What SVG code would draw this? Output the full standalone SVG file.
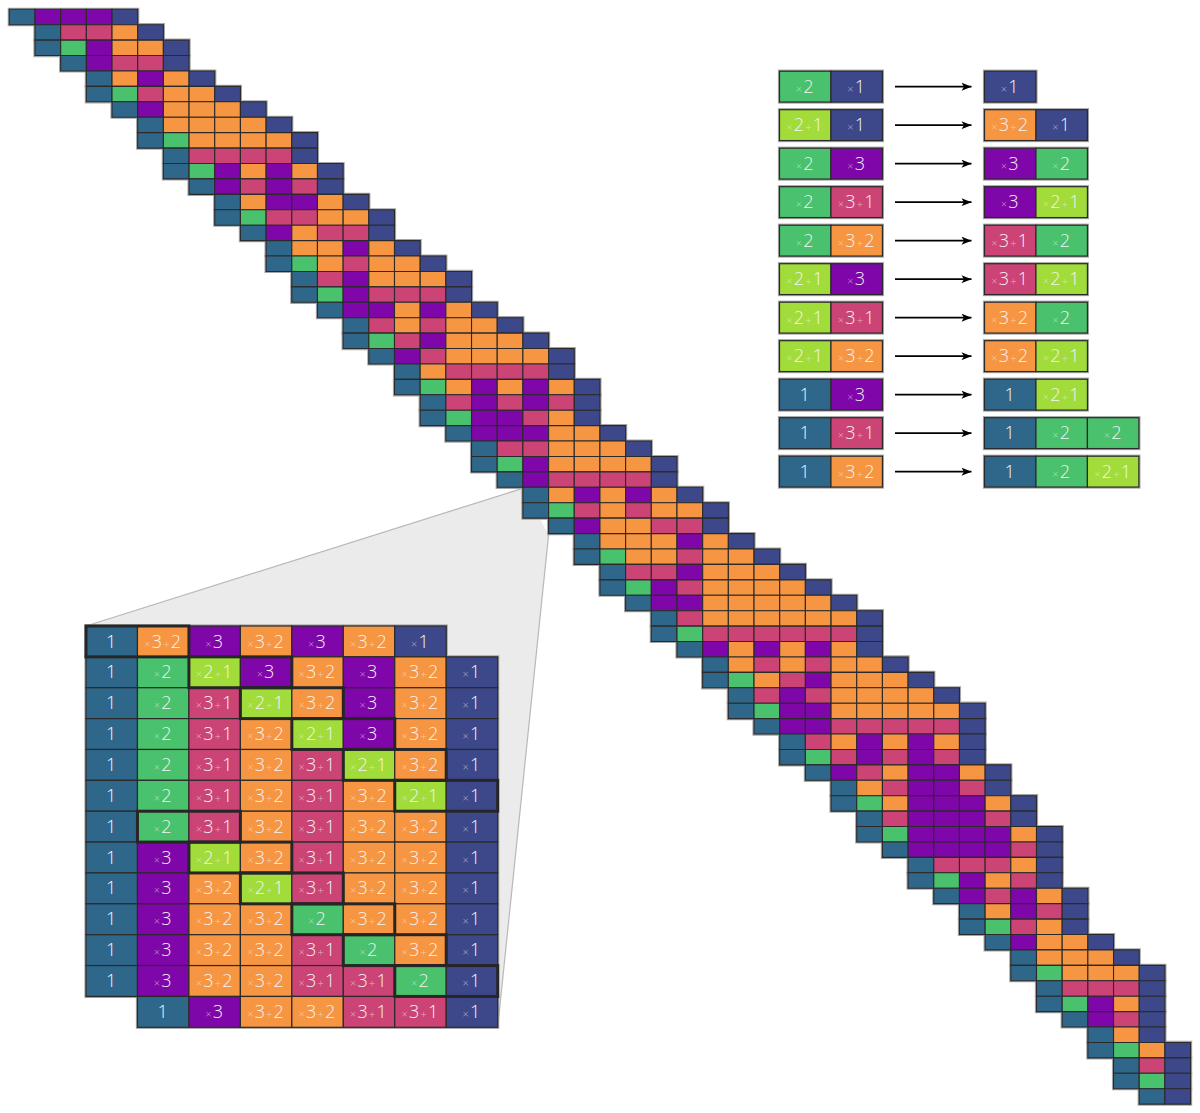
<svg xmlns="http://www.w3.org/2000/svg" width="1200" height="1113" viewBox="0 0 1200 1113">
<style>
.t{fill:#2f678b}.p{fill:#7f06a8}.k{fill:#cb4475}.o{fill:#f79642}.b{fill:#3d488a}.g{fill:#4ac16c}.l{fill:#a2dc3a}
#diag rect{stroke:#2a2a2a;stroke-width:1.1;vector-effect:non-scaling-stroke}
#diag #halo rect{fill:#9b9b9b;stroke:#a5a5a5;stroke-width:3.2}
.cell{stroke:#2a2a2a;stroke-width:1.2}
.halo{fill:#9b9b9b;stroke:#a5a5a5;stroke-width:3.2}
.pair{fill:none;stroke:#262626;stroke-width:3}
text{font-family:"Open Sans","DejaVu Sans",sans-serif;font-size:18px;font-weight:300;fill:#f3f3f3;text-anchor:middle;letter-spacing:1.2px}
.m{font-size:11px;fill-opacity:0.6}
.conn line{stroke:#000;stroke-width:1.8}
</style>
<defs>
<marker id="ah" viewBox="0 0 10 8" refX="10" refY="4" markerWidth="11" markerHeight="8" markerUnits="userSpaceOnUse" orient="auto"><path d="M0,0 L10,4 L0,8 L2.5,4 z" fill="#000"/></marker>
</defs>
<g id="zoom-funnel">
<polygon points="86,626 522.9,488.3 548.6,534.6 497.7,1027.3 137.46,1027.3 137.46,996.44 86,996.44" fill="#ebebeb"/>
<line x1="86" y1="626" x2="522.9" y2="488.3" stroke="#b8b8b8" stroke-width="1.2"/>
<line x1="548.6" y1="534.6" x2="497.7" y2="1027.3" stroke="#b8b8b8" stroke-width="1.2"/>
</g>
<g id="diag" transform="translate(9.3 9.3) scale(25.68 15.42)">
<g id="halo">
<rect x="0" y="0" width="5" height="1"/><rect x="1" y="1" width="5" height="1"/><rect x="1" y="2" width="6" height="1"/><rect x="2" y="3" width="5" height="1"/><rect x="3" y="4" width="5" height="1"/><rect x="3" y="5" width="6" height="1"/><rect x="4" y="6" width="6" height="1"/><rect x="5" y="7" width="6" height="1"/><rect x="5" y="8" width="7" height="1"/><rect x="6" y="9" width="6" height="1"/>
<rect x="6" y="10" width="7" height="1"/><rect x="7" y="11" width="6" height="1"/><rect x="8" y="12" width="6" height="1"/><rect x="8" y="13" width="7" height="1"/><rect x="9" y="14" width="6" height="1"/><rect x="10" y="15" width="6" height="1"/><rect x="10" y="16" width="7" height="1"/><rect x="11" y="17" width="7" height="1"/><rect x="11" y="18" width="7" height="1"/><rect x="12" y="19" width="7" height="1"/>
<rect x="13" y="20" width="7" height="1"/><rect x="13" y="21" width="8" height="1"/><rect x="14" y="22" width="8" height="1"/><rect x="15" y="23" width="7" height="1"/><rect x="15" y="24" width="8" height="1"/><rect x="16" y="25" width="7" height="1"/><rect x="16" y="26" width="7" height="1"/><rect x="17" y="27" width="7" height="1"/><rect x="18" y="28" width="7" height="1"/><rect x="18" y="29" width="8" height="1"/>
<rect x="19" y="30" width="7" height="1"/><rect x="20" y="31" width="7" height="1"/><rect x="20" y="32" width="8" height="1"/><rect x="21" y="33" width="7" height="1"/><rect x="22" y="34" width="7" height="1"/><rect x="22" y="35" width="8" height="1"/><rect x="23" y="36" width="8" height="1"/><rect x="23" y="37" width="9" height="1"/><rect x="24" y="38" width="9" height="1"/><rect x="25" y="39" width="9" height="1"/>
<rect x="25" y="40" width="9" height="1"/><rect x="26" y="41" width="8" height="1"/><rect x="27" y="42" width="8" height="1"/><rect x="27" y="43" width="9" height="1"/><rect x="28" y="44" width="9" height="1"/><rect x="28" y="45" width="10" height="1"/><rect x="29" y="46" width="9" height="1"/><rect x="30" y="47" width="8" height="1"/><rect x="30" y="48" width="8" height="1"/><rect x="31" y="49" width="8" height="1"/>
<rect x="32" y="50" width="7" height="1"/><rect x="32" y="51" width="8" height="1"/><rect x="33" y="52" width="7" height="1"/><rect x="33" y="53" width="8" height="1"/><rect x="34" y="54" width="7" height="1"/><rect x="35" y="55" width="6" height="1"/><rect x="35" y="56" width="6" height="1"/><rect x="36" y="57" width="6" height="1"/><rect x="37" y="58" width="5" height="1"/><rect x="37" y="59" width="5" height="1"/>
<rect x="38" y="60" width="5" height="1"/><rect x="39" y="61" width="5" height="1"/><rect x="39" y="62" width="6" height="1"/><rect x="40" y="63" width="5" height="1"/><rect x="40" y="64" width="5" height="1"/><rect x="41" y="65" width="4" height="1"/><rect x="42" y="66" width="3" height="1"/><rect x="42" y="67" width="4" height="1"/><rect x="43" y="68" width="3" height="1"/><rect x="43" y="69" width="3" height="1"/>
<rect x="44" y="70" width="2" height="1"/>
</g>
<g id="d0" transform="translate(0 0)"><rect class="t" x="0" width="1" height="1"/><rect class="p" x="1" width="1" height="1"/><rect class="p" x="2" width="1" height="1"/><rect class="p" x="3" width="1" height="1"/><rect class="b" x="4" width="1" height="1"/></g>
<g id="d1" transform="translate(1 1)"><rect class="t" x="0" width="1" height="1"/><rect class="k" x="1" width="1" height="1"/><rect class="k" x="2" width="1" height="1"/><rect class="o" x="3" width="1" height="1"/><rect class="b" x="4" width="1" height="1"/></g>
<g id="d2" transform="translate(1 2)"><rect class="t" x="0" width="1" height="1"/><rect class="g" x="1" width="1" height="1"/><rect class="p" x="2" width="1" height="1"/><rect class="o" x="3" width="1" height="1"/><rect class="o" x="4" width="1" height="1"/><rect class="b" x="5" width="1" height="1"/></g>
<g id="d3" transform="translate(2 3)"><rect class="t" x="0" width="1" height="1"/><rect class="p" x="1" width="1" height="1"/><rect class="k" x="2" width="1" height="1"/><rect class="k" x="3" width="1" height="1"/><rect class="b" x="4" width="1" height="1"/></g>
<g id="d4" transform="translate(3 4)"><rect class="t" x="0" width="1" height="1"/><rect class="o" x="1" width="1" height="1"/><rect class="p" x="2" width="1" height="1"/><rect class="o" x="3" width="1" height="1"/><rect class="b" x="4" width="1" height="1"/></g>
<g id="d5" transform="translate(3 5)"><rect class="t" x="0" width="1" height="1"/><rect class="g" x="1" width="1" height="1"/><rect class="k" x="2" width="1" height="1"/><rect class="o" x="3" width="1" height="1"/><rect class="o" x="4" width="1" height="1"/><rect class="b" x="5" width="1" height="1"/></g>
<g id="d6" transform="translate(4 6)"><rect class="t" x="0" width="1" height="1"/><rect class="p" x="1" width="1" height="1"/><rect class="o" x="2" width="1" height="1"/><rect class="o" x="3" width="1" height="1"/><rect class="o" x="4" width="1" height="1"/><rect class="b" x="5" width="1" height="1"/></g>
<g id="d7" transform="translate(5 7)"><rect class="t" x="0" width="1" height="1"/><rect class="o" x="1" width="1" height="1"/><rect class="o" x="2" width="1" height="1"/><rect class="o" x="3" width="1" height="1"/><rect class="o" x="4" width="1" height="1"/><rect class="b" x="5" width="1" height="1"/></g>
<g id="d8" transform="translate(5 8)"><rect class="t" x="0" width="1" height="1"/><rect class="g" x="1" width="1" height="1"/><rect class="o" x="2" width="1" height="1"/><rect class="o" x="3" width="1" height="1"/><rect class="o" x="4" width="1" height="1"/><rect class="o" x="5" width="1" height="1"/><rect class="b" x="6" width="1" height="1"/></g>
<g id="d9" transform="translate(6 9)"><rect class="t" x="0" width="1" height="1"/><rect class="k" x="1" width="1" height="1"/><rect class="k" x="2" width="1" height="1"/><rect class="k" x="3" width="1" height="1"/><rect class="k" x="4" width="1" height="1"/><rect class="b" x="5" width="1" height="1"/></g>
<g id="d10" transform="translate(6 10)"><rect class="t" x="0" width="1" height="1"/><rect class="g" x="1" width="1" height="1"/><rect class="p" x="2" width="1" height="1"/><rect class="o" x="3" width="1" height="1"/><rect class="p" x="4" width="1" height="1"/><rect class="o" x="5" width="1" height="1"/><rect class="b" x="6" width="1" height="1"/></g>
<g id="d11" transform="translate(7 11)"><rect class="t" x="0" width="1" height="1"/><rect class="p" x="1" width="1" height="1"/><rect class="k" x="2" width="1" height="1"/><rect class="p" x="3" width="1" height="1"/><rect class="k" x="4" width="1" height="1"/><rect class="b" x="5" width="1" height="1"/></g>
<g id="d12" transform="translate(8 12)"><rect class="t" x="0" width="1" height="1"/><rect class="o" x="1" width="1" height="1"/><rect class="p" x="2" width="1" height="1"/><rect class="p" x="3" width="1" height="1"/><rect class="o" x="4" width="1" height="1"/><rect class="b" x="5" width="1" height="1"/></g>
<g id="d13" transform="translate(8 13)"><rect class="t" x="0" width="1" height="1"/><rect class="g" x="1" width="1" height="1"/><rect class="k" x="2" width="1" height="1"/><rect class="k" x="3" width="1" height="1"/><rect class="o" x="4" width="1" height="1"/><rect class="o" x="5" width="1" height="1"/><rect class="b" x="6" width="1" height="1"/></g>
<g id="d14" transform="translate(9 14)"><rect class="t" x="0" width="1" height="1"/><rect class="p" x="1" width="1" height="1"/><rect class="o" x="2" width="1" height="1"/><rect class="k" x="3" width="1" height="1"/><rect class="k" x="4" width="1" height="1"/><rect class="b" x="5" width="1" height="1"/></g>
<g id="d15" transform="translate(10 15)"><rect class="t" x="0" width="1" height="1"/><rect class="o" x="1" width="1" height="1"/><rect class="o" x="2" width="1" height="1"/><rect class="p" x="3" width="1" height="1"/><rect class="o" x="4" width="1" height="1"/><rect class="b" x="5" width="1" height="1"/></g>
<g id="d16" transform="translate(10 16)"><rect class="t" x="0" width="1" height="1"/><rect class="g" x="1" width="1" height="1"/><rect class="o" x="2" width="1" height="1"/><rect class="k" x="3" width="1" height="1"/><rect class="o" x="4" width="1" height="1"/><rect class="o" x="5" width="1" height="1"/><rect class="b" x="6" width="1" height="1"/></g>
<g id="d17" transform="translate(11 17)"><rect class="t" x="0" width="1" height="1"/><rect class="k" x="1" width="1" height="1"/><rect class="p" x="2" width="1" height="1"/><rect class="o" x="3" width="1" height="1"/><rect class="o" x="4" width="1" height="1"/><rect class="o" x="5" width="1" height="1"/><rect class="b" x="6" width="1" height="1"/></g>
<g id="d18" transform="translate(11 18)"><rect class="t" x="0" width="1" height="1"/><rect class="g" x="1" width="1" height="1"/><rect class="p" x="2" width="1" height="1"/><rect class="k" x="3" width="1" height="1"/><rect class="k" x="4" width="1" height="1"/><rect class="k" x="5" width="1" height="1"/><rect class="b" x="6" width="1" height="1"/></g>
<g id="d19" transform="translate(12 19)"><rect class="t" x="0" width="1" height="1"/><rect class="p" x="1" width="1" height="1"/><rect class="p" x="2" width="1" height="1"/><rect class="o" x="3" width="1" height="1"/><rect class="p" x="4" width="1" height="1"/><rect class="o" x="5" width="1" height="1"/><rect class="b" x="6" width="1" height="1"/></g>
<g id="d20" transform="translate(13 20)"><rect class="t" x="0" width="1" height="1"/><rect class="k" x="1" width="1" height="1"/><rect class="o" x="2" width="1" height="1"/><rect class="k" x="3" width="1" height="1"/><rect class="o" x="4" width="1" height="1"/><rect class="o" x="5" width="1" height="1"/><rect class="b" x="6" width="1" height="1"/></g>
<g id="d21" transform="translate(13 21)"><rect class="t" x="0" width="1" height="1"/><rect class="g" x="1" width="1" height="1"/><rect class="k" x="2" width="1" height="1"/><rect class="p" x="3" width="1" height="1"/><rect class="o" x="4" width="1" height="1"/><rect class="o" x="5" width="1" height="1"/><rect class="o" x="6" width="1" height="1"/><rect class="b" x="7" width="1" height="1"/></g>
<g id="d22" transform="translate(14 22)"><rect class="t" x="0" width="1" height="1"/><rect class="p" x="1" width="1" height="1"/><rect class="k" x="2" width="1" height="1"/><rect class="o" x="3" width="1" height="1"/><rect class="o" x="4" width="1" height="1"/><rect class="o" x="5" width="1" height="1"/><rect class="o" x="6" width="1" height="1"/><rect class="b" x="7" width="1" height="1"/></g>
<g id="d23" transform="translate(15 23)"><rect class="t" x="0" width="1" height="1"/><rect class="o" x="1" width="1" height="1"/><rect class="k" x="2" width="1" height="1"/><rect class="k" x="3" width="1" height="1"/><rect class="k" x="4" width="1" height="1"/><rect class="k" x="5" width="1" height="1"/><rect class="b" x="6" width="1" height="1"/></g>
<g id="d24" transform="translate(15 24)"><rect class="t" x="0" width="1" height="1"/><rect class="g" x="1" width="1" height="1"/><rect class="o" x="2" width="1" height="1"/><rect class="p" x="3" width="1" height="1"/><rect class="o" x="4" width="1" height="1"/><rect class="p" x="5" width="1" height="1"/><rect class="o" x="6" width="1" height="1"/><rect class="b" x="7" width="1" height="1"/></g>
<g id="d25" transform="translate(16 25)"><rect class="t" x="0" width="1" height="1"/><rect class="k" x="1" width="1" height="1"/><rect class="p" x="2" width="1" height="1"/><rect class="k" x="3" width="1" height="1"/><rect class="p" x="4" width="1" height="1"/><rect class="k" x="5" width="1" height="1"/><rect class="b" x="6" width="1" height="1"/></g>
<g id="d26" transform="translate(16 26)"><rect class="t" x="0" width="1" height="1"/><rect class="g" x="1" width="1" height="1"/><rect class="p" x="2" width="1" height="1"/><rect class="p" x="3" width="1" height="1"/><rect class="k" x="4" width="1" height="1"/><rect class="o" x="5" width="1" height="1"/><rect class="b" x="6" width="1" height="1"/></g>
<g id="d27" transform="translate(17 27)"><rect class="t" x="0" width="1" height="1"/><rect class="p" x="1" width="1" height="1"/><rect class="p" x="2" width="1" height="1"/><rect class="p" x="3" width="1" height="1"/><rect class="o" x="4" width="1" height="1"/><rect class="o" x="5" width="1" height="1"/><rect class="b" x="6" width="1" height="1"/></g>
<g id="d28" transform="translate(18 28)"><rect class="t" x="0" width="1" height="1"/><rect class="k" x="1" width="1" height="1"/><rect class="k" x="2" width="1" height="1"/><rect class="o" x="3" width="1" height="1"/><rect class="o" x="4" width="1" height="1"/><rect class="o" x="5" width="1" height="1"/><rect class="b" x="6" width="1" height="1"/></g>
<g id="d29" transform="translate(18 29)"><rect class="t" x="0" width="1" height="1"/><rect class="g" x="1" width="1" height="1"/><rect class="p" x="2" width="1" height="1"/><rect class="o" x="3" width="1" height="1"/><rect class="o" x="4" width="1" height="1"/><rect class="o" x="5" width="1" height="1"/><rect class="o" x="6" width="1" height="1"/><rect class="b" x="7" width="1" height="1"/></g>
<g id="d30" transform="translate(19 30)"><rect class="t" x="0" width="1" height="1"/><rect class="p" x="1" width="1" height="1"/><rect class="k" x="2" width="1" height="1"/><rect class="k" x="3" width="1" height="1"/><rect class="k" x="4" width="1" height="1"/><rect class="k" x="5" width="1" height="1"/><rect class="b" x="6" width="1" height="1"/></g>
<g id="d31" transform="translate(20 31)"><rect class="t" x="0" width="1" height="1"/><rect class="o" x="1" width="1" height="1"/><rect class="p" x="2" width="1" height="1"/><rect class="o" x="3" width="1" height="1"/><rect class="p" x="4" width="1" height="1"/><rect class="o" x="5" width="1" height="1"/><rect class="b" x="6" width="1" height="1"/></g>
<g id="d32" transform="translate(20 32)"><rect class="t" x="0" width="1" height="1"/><rect class="g" x="1" width="1" height="1"/><rect class="k" x="2" width="1" height="1"/><rect class="o" x="3" width="1" height="1"/><rect class="k" x="4" width="1" height="1"/><rect class="o" x="5" width="1" height="1"/><rect class="o" x="6" width="1" height="1"/><rect class="b" x="7" width="1" height="1"/></g>
<g id="d33" transform="translate(21 33)"><rect class="t" x="0" width="1" height="1"/><rect class="p" x="1" width="1" height="1"/><rect class="o" x="2" width="1" height="1"/><rect class="o" x="3" width="1" height="1"/><rect class="k" x="4" width="1" height="1"/><rect class="k" x="5" width="1" height="1"/><rect class="b" x="6" width="1" height="1"/></g>
<g id="d34" transform="translate(22 34)"><rect class="t" x="0" width="1" height="1"/><rect class="o" x="1" width="1" height="1"/><rect class="o" x="2" width="1" height="1"/><rect class="o" x="3" width="1" height="1"/><rect class="p" x="4" width="1" height="1"/><rect class="o" x="5" width="1" height="1"/><rect class="b" x="6" width="1" height="1"/></g>
<g id="d35" transform="translate(22 35)"><rect class="t" x="0" width="1" height="1"/><rect class="g" x="1" width="1" height="1"/><rect class="o" x="2" width="1" height="1"/><rect class="o" x="3" width="1" height="1"/><rect class="k" x="4" width="1" height="1"/><rect class="o" x="5" width="1" height="1"/><rect class="o" x="6" width="1" height="1"/><rect class="b" x="7" width="1" height="1"/></g>
<g id="d36" transform="translate(23 36)"><rect class="t" x="0" width="1" height="1"/><rect class="k" x="1" width="1" height="1"/><rect class="k" x="2" width="1" height="1"/><rect class="p" x="3" width="1" height="1"/><rect class="o" x="4" width="1" height="1"/><rect class="o" x="5" width="1" height="1"/><rect class="o" x="6" width="1" height="1"/><rect class="b" x="7" width="1" height="1"/></g>
<g id="d37" transform="translate(23 37)"><rect class="t" x="0" width="1" height="1"/><rect class="g" x="1" width="1" height="1"/><rect class="p" x="2" width="1" height="1"/><rect class="k" x="3" width="1" height="1"/><rect class="o" x="4" width="1" height="1"/><rect class="o" x="5" width="1" height="1"/><rect class="o" x="6" width="1" height="1"/><rect class="o" x="7" width="1" height="1"/><rect class="b" x="8" width="1" height="1"/></g>
<g id="d38" transform="translate(24 38)"><rect class="t" x="0" width="1" height="1"/><rect class="p" x="1" width="1" height="1"/><rect class="p" x="2" width="1" height="1"/><rect class="o" x="3" width="1" height="1"/><rect class="o" x="4" width="1" height="1"/><rect class="o" x="5" width="1" height="1"/><rect class="o" x="6" width="1" height="1"/><rect class="o" x="7" width="1" height="1"/><rect class="b" x="8" width="1" height="1"/></g>
<g id="d39" transform="translate(25 39)"><rect class="t" x="0" width="1" height="1"/><rect class="k" x="1" width="1" height="1"/><rect class="o" x="2" width="1" height="1"/><rect class="o" x="3" width="1" height="1"/><rect class="o" x="4" width="1" height="1"/><rect class="o" x="5" width="1" height="1"/><rect class="o" x="6" width="1" height="1"/><rect class="o" x="7" width="1" height="1"/><rect class="b" x="8" width="1" height="1"/></g>
<g id="d40" transform="translate(25 40)"><rect class="t" x="0" width="1" height="1"/><rect class="g" x="1" width="1" height="1"/><rect class="k" x="2" width="1" height="1"/><rect class="k" x="3" width="1" height="1"/><rect class="k" x="4" width="1" height="1"/><rect class="k" x="5" width="1" height="1"/><rect class="k" x="6" width="1" height="1"/><rect class="k" x="7" width="1" height="1"/><rect class="b" x="8" width="1" height="1"/></g>
<g id="d41" transform="translate(26 41)"><rect class="t" x="0" width="1" height="1"/><rect class="p" x="1" width="1" height="1"/><rect class="o" x="2" width="1" height="1"/><rect class="p" x="3" width="1" height="1"/><rect class="o" x="4" width="1" height="1"/><rect class="p" x="5" width="1" height="1"/><rect class="o" x="6" width="1" height="1"/><rect class="b" x="7" width="1" height="1"/></g>
<g id="d42" transform="translate(27 42)"><rect class="t" x="0" width="1" height="1"/><rect class="o" x="1" width="1" height="1"/><rect class="k" x="2" width="1" height="1"/><rect class="o" x="3" width="1" height="1"/><rect class="k" x="4" width="1" height="1"/><rect class="o" x="5" width="1" height="1"/><rect class="o" x="6" width="1" height="1"/><rect class="b" x="7" width="1" height="1"/></g>
<g id="d43" transform="translate(27 43)"><rect class="t" x="0" width="1" height="1"/><rect class="g" x="1" width="1" height="1"/><rect class="o" x="2" width="1" height="1"/><rect class="k" x="3" width="1" height="1"/><rect class="p" x="4" width="1" height="1"/><rect class="o" x="5" width="1" height="1"/><rect class="o" x="6" width="1" height="1"/><rect class="o" x="7" width="1" height="1"/><rect class="b" x="8" width="1" height="1"/></g>
<g id="d44" transform="translate(28 44)"><rect class="t" x="0" width="1" height="1"/><rect class="k" x="1" width="1" height="1"/><rect class="p" x="2" width="1" height="1"/><rect class="k" x="3" width="1" height="1"/><rect class="o" x="4" width="1" height="1"/><rect class="o" x="5" width="1" height="1"/><rect class="o" x="6" width="1" height="1"/><rect class="o" x="7" width="1" height="1"/><rect class="b" x="8" width="1" height="1"/></g>
<g id="d45" transform="translate(28 45)"><rect class="t" x="0" width="1" height="1"/><rect class="g" x="1" width="1" height="1"/><rect class="p" x="2" width="1" height="1"/><rect class="p" x="3" width="1" height="1"/><rect class="o" x="4" width="1" height="1"/><rect class="o" x="5" width="1" height="1"/><rect class="o" x="6" width="1" height="1"/><rect class="o" x="7" width="1" height="1"/><rect class="o" x="8" width="1" height="1"/><rect class="b" x="9" width="1" height="1"/></g>
<g id="d46" transform="translate(29 46)"><rect class="t" x="0" width="1" height="1"/><rect class="p" x="1" width="1" height="1"/><rect class="p" x="2" width="1" height="1"/><rect class="k" x="3" width="1" height="1"/><rect class="k" x="4" width="1" height="1"/><rect class="k" x="5" width="1" height="1"/><rect class="k" x="6" width="1" height="1"/><rect class="k" x="7" width="1" height="1"/><rect class="b" x="8" width="1" height="1"/></g>
<g id="d47" transform="translate(30 47)"><rect class="t" x="0" width="1" height="1"/><rect class="k" x="1" width="1" height="1"/><rect class="o" x="2" width="1" height="1"/><rect class="p" x="3" width="1" height="1"/><rect class="o" x="4" width="1" height="1"/><rect class="p" x="5" width="1" height="1"/><rect class="o" x="6" width="1" height="1"/><rect class="b" x="7" width="1" height="1"/></g>
<g id="d48" transform="translate(30 48)"><rect class="t" x="0" width="1" height="1"/><rect class="g" x="1" width="1" height="1"/><rect class="k" x="2" width="1" height="1"/><rect class="p" x="3" width="1" height="1"/><rect class="k" x="4" width="1" height="1"/><rect class="p" x="5" width="1" height="1"/><rect class="k" x="6" width="1" height="1"/><rect class="b" x="7" width="1" height="1"/></g>
<g id="d49" transform="translate(31 49)"><rect class="t" x="0" width="1" height="1"/><rect class="p" x="1" width="1" height="1"/><rect class="k" x="2" width="1" height="1"/><rect class="o" x="3" width="1" height="1"/><rect class="p" x="4" width="1" height="1"/><rect class="p" x="5" width="1" height="1"/><rect class="o" x="6" width="1" height="1"/><rect class="b" x="7" width="1" height="1"/></g>
<g id="d50" transform="translate(32 50)"><rect class="t" x="0" width="1" height="1"/><rect class="o" x="1" width="1" height="1"/><rect class="k" x="2" width="1" height="1"/><rect class="p" x="3" width="1" height="1"/><rect class="p" x="4" width="1" height="1"/><rect class="k" x="5" width="1" height="1"/><rect class="b" x="6" width="1" height="1"/></g>
<g id="d51" transform="translate(32 51)"><rect class="t" x="0" width="1" height="1"/><rect class="g" x="1" width="1" height="1"/><rect class="o" x="2" width="1" height="1"/><rect class="p" x="3" width="1" height="1"/><rect class="p" x="4" width="1" height="1"/><rect class="p" x="5" width="1" height="1"/><rect class="o" x="6" width="1" height="1"/><rect class="b" x="7" width="1" height="1"/></g>
<g id="d52" transform="translate(33 52)"><rect class="t" x="0" width="1" height="1"/><rect class="k" x="1" width="1" height="1"/><rect class="p" x="2" width="1" height="1"/><rect class="p" x="3" width="1" height="1"/><rect class="p" x="4" width="1" height="1"/><rect class="k" x="5" width="1" height="1"/><rect class="b" x="6" width="1" height="1"/></g>
<g id="d53" transform="translate(33 53)"><rect class="t" x="0" width="1" height="1"/><rect class="g" x="1" width="1" height="1"/><rect class="p" x="2" width="1" height="1"/><rect class="p" x="3" width="1" height="1"/><rect class="p" x="4" width="1" height="1"/><rect class="p" x="5" width="1" height="1"/><rect class="o" x="6" width="1" height="1"/><rect class="b" x="7" width="1" height="1"/></g>
<g id="d54" transform="translate(34 54)"><rect class="t" x="0" width="1" height="1"/><rect class="p" x="1" width="1" height="1"/><rect class="p" x="2" width="1" height="1"/><rect class="p" x="3" width="1" height="1"/><rect class="p" x="4" width="1" height="1"/><rect class="k" x="5" width="1" height="1"/><rect class="b" x="6" width="1" height="1"/></g>
<g id="d55" transform="translate(35 55)"><rect class="t" x="0" width="1" height="1"/><rect class="k" x="1" width="1" height="1"/><rect class="k" x="2" width="1" height="1"/><rect class="k" x="3" width="1" height="1"/><rect class="o" x="4" width="1" height="1"/><rect class="b" x="5" width="1" height="1"/></g>
<g id="d56" transform="translate(35 56)"><rect class="t" x="0" width="1" height="1"/><rect class="g" x="1" width="1" height="1"/><rect class="p" x="2" width="1" height="1"/><rect class="o" x="3" width="1" height="1"/><rect class="k" x="4" width="1" height="1"/><rect class="b" x="5" width="1" height="1"/></g>
<g id="d57" transform="translate(36 57)"><rect class="t" x="0" width="1" height="1"/><rect class="p" x="1" width="1" height="1"/><rect class="k" x="2" width="1" height="1"/><rect class="p" x="3" width="1" height="1"/><rect class="o" x="4" width="1" height="1"/><rect class="b" x="5" width="1" height="1"/></g>
<g id="d58" transform="translate(37 58)"><rect class="t" x="0" width="1" height="1"/><rect class="o" x="1" width="1" height="1"/><rect class="p" x="2" width="1" height="1"/><rect class="k" x="3" width="1" height="1"/><rect class="b" x="4" width="1" height="1"/></g>
<g id="d59" transform="translate(37 59)"><rect class="t" x="0" width="1" height="1"/><rect class="g" x="1" width="1" height="1"/><rect class="k" x="2" width="1" height="1"/><rect class="o" x="3" width="1" height="1"/><rect class="b" x="4" width="1" height="1"/></g>
<g id="d60" transform="translate(38 60)"><rect class="t" x="0" width="1" height="1"/><rect class="p" x="1" width="1" height="1"/><rect class="o" x="2" width="1" height="1"/><rect class="o" x="3" width="1" height="1"/><rect class="b" x="4" width="1" height="1"/></g>
<g id="d61" transform="translate(39 61)"><rect class="t" x="0" width="1" height="1"/><rect class="o" x="1" width="1" height="1"/><rect class="o" x="2" width="1" height="1"/><rect class="o" x="3" width="1" height="1"/><rect class="b" x="4" width="1" height="1"/></g>
<g id="d62" transform="translate(39 62)"><rect class="t" x="0" width="1" height="1"/><rect class="g" x="1" width="1" height="1"/><rect class="o" x="2" width="1" height="1"/><rect class="o" x="3" width="1" height="1"/><rect class="o" x="4" width="1" height="1"/><rect class="b" x="5" width="1" height="1"/></g>
<g id="d63" transform="translate(40 63)"><rect class="t" x="0" width="1" height="1"/><rect class="k" x="1" width="1" height="1"/><rect class="k" x="2" width="1" height="1"/><rect class="k" x="3" width="1" height="1"/><rect class="b" x="4" width="1" height="1"/></g>
<g id="d64" transform="translate(40 64)"><rect class="t" x="0" width="1" height="1"/><rect class="g" x="1" width="1" height="1"/><rect class="p" x="2" width="1" height="1"/><rect class="o" x="3" width="1" height="1"/><rect class="b" x="4" width="1" height="1"/></g>
<g id="d65" transform="translate(41 65)"><rect class="t" x="0" width="1" height="1"/><rect class="p" x="1" width="1" height="1"/><rect class="k" x="2" width="1" height="1"/><rect class="b" x="3" width="1" height="1"/></g>
<g id="d66" transform="translate(42 66)"><rect class="t" x="0" width="1" height="1"/><rect class="o" x="1" width="1" height="1"/><rect class="b" x="2" width="1" height="1"/></g>
<g id="d67" transform="translate(42 67)"><rect class="t" x="0" width="1" height="1"/><rect class="g" x="1" width="1" height="1"/><rect class="o" x="2" width="1" height="1"/><rect class="b" x="3" width="1" height="1"/></g>
<g id="d68" transform="translate(43 68)"><rect class="t" x="0" width="1" height="1"/><rect class="k" x="1" width="1" height="1"/><rect class="b" x="2" width="1" height="1"/></g>
<g id="d69" transform="translate(43 69)"><rect class="t" x="0" width="1" height="1"/><rect class="g" x="1" width="1" height="1"/><rect class="b" x="2" width="1" height="1"/></g>
<g id="d70" transform="translate(44 70)"><rect class="t" x="0" width="1" height="1"/><rect class="b" x="1" width="1" height="1"/></g>
</g>
<g id="inset">
<g id="inset-halo">
<rect class="halo" x="86" y="626" width="360.22" height="30.87"/>
<rect class="halo" x="86" y="656.87" width="411.68" height="339.57"/>
<rect class="halo" x="137.46" y="996.44" width="360.22" height="30.87"/>
</g>
<g id="i0" transform="translate(86 626)">
<rect class="cell t" x="0" width="51.46" height="30.87"/><rect class="cell o" x="51.46" width="51.46" height="30.87"/><rect class="cell p" x="102.92" width="51.46" height="30.87"/><rect class="cell o" x="154.38" width="51.46" height="30.87"/><rect class="cell p" x="205.84" width="51.46" height="30.87"/><rect class="cell o" x="257.3" width="51.46" height="30.87"/><rect class="cell b" x="308.76" width="51.46" height="30.87"/>
<text x="25.73" y="21.5">1</text><text x="77.19" y="21.5"><tspan class="m">×</tspan>3<tspan class="m">+</tspan>2</text><text x="128.65" y="21.5"><tspan class="m">×</tspan>3</text><text x="180.11" y="21.5"><tspan class="m">×</tspan>3<tspan class="m">+</tspan>2</text><text x="231.57" y="21.5"><tspan class="m">×</tspan>3</text><text x="283.03" y="21.5"><tspan class="m">×</tspan>3<tspan class="m">+</tspan>2</text><text x="334.49" y="21.5"><tspan class="m">×</tspan>1</text>
</g>
<g id="i1" transform="translate(86 656.87)">
<rect class="cell t" x="0" width="51.46" height="30.87"/><rect class="cell g" x="51.46" width="51.46" height="30.87"/><rect class="cell l" x="102.92" width="51.46" height="30.87"/><rect class="cell p" x="154.38" width="51.46" height="30.87"/><rect class="cell o" x="205.84" width="51.46" height="30.87"/><rect class="cell p" x="257.3" width="51.46" height="30.87"/><rect class="cell o" x="308.76" width="51.46" height="30.87"/><rect class="cell b" x="360.22" width="51.46" height="30.87"/>
<text x="25.73" y="21.5">1</text><text x="77.19" y="21.5"><tspan class="m">×</tspan>2</text><text x="128.65" y="21.5"><tspan class="m">×</tspan>2<tspan class="m">+</tspan>1</text><text x="180.11" y="21.5"><tspan class="m">×</tspan>3</text><text x="231.57" y="21.5"><tspan class="m">×</tspan>3<tspan class="m">+</tspan>2</text><text x="283.03" y="21.5"><tspan class="m">×</tspan>3</text><text x="334.49" y="21.5"><tspan class="m">×</tspan>3<tspan class="m">+</tspan>2</text><text x="385.95" y="21.5"><tspan class="m">×</tspan>1</text>
</g>
<g id="i2" transform="translate(86 687.74)">
<rect class="cell t" x="0" width="51.46" height="30.87"/><rect class="cell g" x="51.46" width="51.46" height="30.87"/><rect class="cell k" x="102.92" width="51.46" height="30.87"/><rect class="cell l" x="154.38" width="51.46" height="30.87"/><rect class="cell o" x="205.84" width="51.46" height="30.87"/><rect class="cell p" x="257.3" width="51.46" height="30.87"/><rect class="cell o" x="308.76" width="51.46" height="30.87"/><rect class="cell b" x="360.22" width="51.46" height="30.87"/>
<text x="25.73" y="21.5">1</text><text x="77.19" y="21.5"><tspan class="m">×</tspan>2</text><text x="128.65" y="21.5"><tspan class="m">×</tspan>3<tspan class="m">+</tspan>1</text><text x="180.11" y="21.5"><tspan class="m">×</tspan>2<tspan class="m">+</tspan>1</text><text x="231.57" y="21.5"><tspan class="m">×</tspan>3<tspan class="m">+</tspan>2</text><text x="283.03" y="21.5"><tspan class="m">×</tspan>3</text><text x="334.49" y="21.5"><tspan class="m">×</tspan>3<tspan class="m">+</tspan>2</text><text x="385.95" y="21.5"><tspan class="m">×</tspan>1</text>
</g>
<g id="i3" transform="translate(86 718.61)">
<rect class="cell t" x="0" width="51.46" height="30.87"/><rect class="cell g" x="51.46" width="51.46" height="30.87"/><rect class="cell k" x="102.92" width="51.46" height="30.87"/><rect class="cell o" x="154.38" width="51.46" height="30.87"/><rect class="cell l" x="205.84" width="51.46" height="30.87"/><rect class="cell p" x="257.3" width="51.46" height="30.87"/><rect class="cell o" x="308.76" width="51.46" height="30.87"/><rect class="cell b" x="360.22" width="51.46" height="30.87"/>
<text x="25.73" y="21.5">1</text><text x="77.19" y="21.5"><tspan class="m">×</tspan>2</text><text x="128.65" y="21.5"><tspan class="m">×</tspan>3<tspan class="m">+</tspan>1</text><text x="180.11" y="21.5"><tspan class="m">×</tspan>3<tspan class="m">+</tspan>2</text><text x="231.57" y="21.5"><tspan class="m">×</tspan>2<tspan class="m">+</tspan>1</text><text x="283.03" y="21.5"><tspan class="m">×</tspan>3</text><text x="334.49" y="21.5"><tspan class="m">×</tspan>3<tspan class="m">+</tspan>2</text><text x="385.95" y="21.5"><tspan class="m">×</tspan>1</text>
</g>
<g id="i4" transform="translate(86 749.48)">
<rect class="cell t" x="0" width="51.46" height="30.87"/><rect class="cell g" x="51.46" width="51.46" height="30.87"/><rect class="cell k" x="102.92" width="51.46" height="30.87"/><rect class="cell o" x="154.38" width="51.46" height="30.87"/><rect class="cell k" x="205.84" width="51.46" height="30.87"/><rect class="cell l" x="257.3" width="51.46" height="30.87"/><rect class="cell o" x="308.76" width="51.46" height="30.87"/><rect class="cell b" x="360.22" width="51.46" height="30.87"/>
<text x="25.73" y="21.5">1</text><text x="77.19" y="21.5"><tspan class="m">×</tspan>2</text><text x="128.65" y="21.5"><tspan class="m">×</tspan>3<tspan class="m">+</tspan>1</text><text x="180.11" y="21.5"><tspan class="m">×</tspan>3<tspan class="m">+</tspan>2</text><text x="231.57" y="21.5"><tspan class="m">×</tspan>3<tspan class="m">+</tspan>1</text><text x="283.03" y="21.5"><tspan class="m">×</tspan>2<tspan class="m">+</tspan>1</text><text x="334.49" y="21.5"><tspan class="m">×</tspan>3<tspan class="m">+</tspan>2</text><text x="385.95" y="21.5"><tspan class="m">×</tspan>1</text>
</g>
<g id="i5" transform="translate(86 780.35)">
<rect class="cell t" x="0" width="51.46" height="30.87"/><rect class="cell g" x="51.46" width="51.46" height="30.87"/><rect class="cell k" x="102.92" width="51.46" height="30.87"/><rect class="cell o" x="154.38" width="51.46" height="30.87"/><rect class="cell k" x="205.84" width="51.46" height="30.87"/><rect class="cell o" x="257.3" width="51.46" height="30.87"/><rect class="cell l" x="308.76" width="51.46" height="30.87"/><rect class="cell b" x="360.22" width="51.46" height="30.87"/>
<text x="25.73" y="21.5">1</text><text x="77.19" y="21.5"><tspan class="m">×</tspan>2</text><text x="128.65" y="21.5"><tspan class="m">×</tspan>3<tspan class="m">+</tspan>1</text><text x="180.11" y="21.5"><tspan class="m">×</tspan>3<tspan class="m">+</tspan>2</text><text x="231.57" y="21.5"><tspan class="m">×</tspan>3<tspan class="m">+</tspan>1</text><text x="283.03" y="21.5"><tspan class="m">×</tspan>3<tspan class="m">+</tspan>2</text><text x="334.49" y="21.5"><tspan class="m">×</tspan>2<tspan class="m">+</tspan>1</text><text x="385.95" y="21.5"><tspan class="m">×</tspan>1</text>
</g>
<g id="i6" transform="translate(86 811.22)">
<rect class="cell t" x="0" width="51.46" height="30.87"/><rect class="cell g" x="51.46" width="51.46" height="30.87"/><rect class="cell k" x="102.92" width="51.46" height="30.87"/><rect class="cell o" x="154.38" width="51.46" height="30.87"/><rect class="cell k" x="205.84" width="51.46" height="30.87"/><rect class="cell o" x="257.3" width="51.46" height="30.87"/><rect class="cell o" x="308.76" width="51.46" height="30.87"/><rect class="cell b" x="360.22" width="51.46" height="30.87"/>
<text x="25.73" y="21.5">1</text><text x="77.19" y="21.5"><tspan class="m">×</tspan>2</text><text x="128.65" y="21.5"><tspan class="m">×</tspan>3<tspan class="m">+</tspan>1</text><text x="180.11" y="21.5"><tspan class="m">×</tspan>3<tspan class="m">+</tspan>2</text><text x="231.57" y="21.5"><tspan class="m">×</tspan>3<tspan class="m">+</tspan>1</text><text x="283.03" y="21.5"><tspan class="m">×</tspan>3<tspan class="m">+</tspan>2</text><text x="334.49" y="21.5"><tspan class="m">×</tspan>3<tspan class="m">+</tspan>2</text><text x="385.95" y="21.5"><tspan class="m">×</tspan>1</text>
</g>
<g id="i7" transform="translate(86 842.09)">
<rect class="cell t" x="0" width="51.46" height="30.87"/><rect class="cell p" x="51.46" width="51.46" height="30.87"/><rect class="cell l" x="102.92" width="51.46" height="30.87"/><rect class="cell o" x="154.38" width="51.46" height="30.87"/><rect class="cell k" x="205.84" width="51.46" height="30.87"/><rect class="cell o" x="257.3" width="51.46" height="30.87"/><rect class="cell o" x="308.76" width="51.46" height="30.87"/><rect class="cell b" x="360.22" width="51.46" height="30.87"/>
<text x="25.73" y="21.5">1</text><text x="77.19" y="21.5"><tspan class="m">×</tspan>3</text><text x="128.65" y="21.5"><tspan class="m">×</tspan>2<tspan class="m">+</tspan>1</text><text x="180.11" y="21.5"><tspan class="m">×</tspan>3<tspan class="m">+</tspan>2</text><text x="231.57" y="21.5"><tspan class="m">×</tspan>3<tspan class="m">+</tspan>1</text><text x="283.03" y="21.5"><tspan class="m">×</tspan>3<tspan class="m">+</tspan>2</text><text x="334.49" y="21.5"><tspan class="m">×</tspan>3<tspan class="m">+</tspan>2</text><text x="385.95" y="21.5"><tspan class="m">×</tspan>1</text>
</g>
<g id="i8" transform="translate(86 872.96)">
<rect class="cell t" x="0" width="51.46" height="30.87"/><rect class="cell p" x="51.46" width="51.46" height="30.87"/><rect class="cell o" x="102.92" width="51.46" height="30.87"/><rect class="cell l" x="154.38" width="51.46" height="30.87"/><rect class="cell k" x="205.84" width="51.46" height="30.87"/><rect class="cell o" x="257.3" width="51.46" height="30.87"/><rect class="cell o" x="308.76" width="51.46" height="30.87"/><rect class="cell b" x="360.22" width="51.46" height="30.87"/>
<text x="25.73" y="21.5">1</text><text x="77.19" y="21.5"><tspan class="m">×</tspan>3</text><text x="128.65" y="21.5"><tspan class="m">×</tspan>3<tspan class="m">+</tspan>2</text><text x="180.11" y="21.5"><tspan class="m">×</tspan>2<tspan class="m">+</tspan>1</text><text x="231.57" y="21.5"><tspan class="m">×</tspan>3<tspan class="m">+</tspan>1</text><text x="283.03" y="21.5"><tspan class="m">×</tspan>3<tspan class="m">+</tspan>2</text><text x="334.49" y="21.5"><tspan class="m">×</tspan>3<tspan class="m">+</tspan>2</text><text x="385.95" y="21.5"><tspan class="m">×</tspan>1</text>
</g>
<g id="i9" transform="translate(86 903.83)">
<rect class="cell t" x="0" width="51.46" height="30.87"/><rect class="cell p" x="51.46" width="51.46" height="30.87"/><rect class="cell o" x="102.92" width="51.46" height="30.87"/><rect class="cell o" x="154.38" width="51.46" height="30.87"/><rect class="cell g" x="205.84" width="51.46" height="30.87"/><rect class="cell o" x="257.3" width="51.46" height="30.87"/><rect class="cell o" x="308.76" width="51.46" height="30.87"/><rect class="cell b" x="360.22" width="51.46" height="30.87"/>
<text x="25.73" y="21.5">1</text><text x="77.19" y="21.5"><tspan class="m">×</tspan>3</text><text x="128.65" y="21.5"><tspan class="m">×</tspan>3<tspan class="m">+</tspan>2</text><text x="180.11" y="21.5"><tspan class="m">×</tspan>3<tspan class="m">+</tspan>2</text><text x="231.57" y="21.5"><tspan class="m">×</tspan>2</text><text x="283.03" y="21.5"><tspan class="m">×</tspan>3<tspan class="m">+</tspan>2</text><text x="334.49" y="21.5"><tspan class="m">×</tspan>3<tspan class="m">+</tspan>2</text><text x="385.95" y="21.5"><tspan class="m">×</tspan>1</text>
</g>
<g id="i10" transform="translate(86 934.7)">
<rect class="cell t" x="0" width="51.46" height="30.87"/><rect class="cell p" x="51.46" width="51.46" height="30.87"/><rect class="cell o" x="102.92" width="51.46" height="30.87"/><rect class="cell o" x="154.38" width="51.46" height="30.87"/><rect class="cell k" x="205.84" width="51.46" height="30.87"/><rect class="cell g" x="257.3" width="51.46" height="30.87"/><rect class="cell o" x="308.76" width="51.46" height="30.87"/><rect class="cell b" x="360.22" width="51.46" height="30.87"/>
<text x="25.73" y="21.5">1</text><text x="77.19" y="21.5"><tspan class="m">×</tspan>3</text><text x="128.65" y="21.5"><tspan class="m">×</tspan>3<tspan class="m">+</tspan>2</text><text x="180.11" y="21.5"><tspan class="m">×</tspan>3<tspan class="m">+</tspan>2</text><text x="231.57" y="21.5"><tspan class="m">×</tspan>3<tspan class="m">+</tspan>1</text><text x="283.03" y="21.5"><tspan class="m">×</tspan>2</text><text x="334.49" y="21.5"><tspan class="m">×</tspan>3<tspan class="m">+</tspan>2</text><text x="385.95" y="21.5"><tspan class="m">×</tspan>1</text>
</g>
<g id="i11" transform="translate(86 965.57)">
<rect class="cell t" x="0" width="51.46" height="30.87"/><rect class="cell p" x="51.46" width="51.46" height="30.87"/><rect class="cell o" x="102.92" width="51.46" height="30.87"/><rect class="cell o" x="154.38" width="51.46" height="30.87"/><rect class="cell k" x="205.84" width="51.46" height="30.87"/><rect class="cell k" x="257.3" width="51.46" height="30.87"/><rect class="cell g" x="308.76" width="51.46" height="30.87"/><rect class="cell b" x="360.22" width="51.46" height="30.87"/>
<text x="25.73" y="21.5">1</text><text x="77.19" y="21.5"><tspan class="m">×</tspan>3</text><text x="128.65" y="21.5"><tspan class="m">×</tspan>3<tspan class="m">+</tspan>2</text><text x="180.11" y="21.5"><tspan class="m">×</tspan>3<tspan class="m">+</tspan>2</text><text x="231.57" y="21.5"><tspan class="m">×</tspan>3<tspan class="m">+</tspan>1</text><text x="283.03" y="21.5"><tspan class="m">×</tspan>3<tspan class="m">+</tspan>1</text><text x="334.49" y="21.5"><tspan class="m">×</tspan>2</text><text x="385.95" y="21.5"><tspan class="m">×</tspan>1</text>
</g>
<g id="i12" transform="translate(86 996.44)">
<rect class="cell t" x="51.46" width="51.46" height="30.87"/><rect class="cell p" x="102.92" width="51.46" height="30.87"/><rect class="cell o" x="154.38" width="51.46" height="30.87"/><rect class="cell o" x="205.84" width="51.46" height="30.87"/><rect class="cell k" x="257.3" width="51.46" height="30.87"/><rect class="cell k" x="308.76" width="51.46" height="30.87"/><rect class="cell b" x="360.22" width="51.46" height="30.87"/>
<text x="77.19" y="21.5">1</text><text x="128.65" y="21.5"><tspan class="m">×</tspan>3</text><text x="180.11" y="21.5"><tspan class="m">×</tspan>3<tspan class="m">+</tspan>2</text><text x="231.57" y="21.5"><tspan class="m">×</tspan>3<tspan class="m">+</tspan>2</text><text x="283.03" y="21.5"><tspan class="m">×</tspan>3<tspan class="m">+</tspan>1</text><text x="334.49" y="21.5"><tspan class="m">×</tspan>3<tspan class="m">+</tspan>1</text><text x="385.95" y="21.5"><tspan class="m">×</tspan>1</text>
</g>
<g id="inset-pairs">
<rect class="pair" x="86" y="626" width="102.92" height="30.87"/>
<rect class="pair" x="188.92" y="656.87" width="102.92" height="30.87"/>
<rect class="pair" x="240.38" y="687.74" width="102.92" height="30.87"/>
<rect class="pair" x="291.84" y="718.61" width="102.92" height="30.87"/>
<rect class="pair" x="343.3" y="749.48" width="102.92" height="30.87"/>
<rect class="pair" x="394.76" y="780.35" width="102.92" height="30.87"/>
<rect class="pair" x="137.46" y="811.22" width="102.92" height="30.87"/>
<rect class="pair" x="188.92" y="842.09" width="102.92" height="30.87"/>
<rect class="pair" x="240.38" y="872.96" width="102.92" height="30.87"/>
<rect class="pair" x="291.84" y="903.83" width="102.92" height="30.87"/>
<rect class="pair" x="343.3" y="934.7" width="102.92" height="30.87"/>
<rect class="pair" x="394.76" y="965.57" width="102.92" height="30.87"/>
</g>
</g>
<g id="legend">
<g id="rule0" transform="translate(0 71.2)">
<rect class="halo" x="779.5" width="102.92" height="30.87"/><rect class="halo" x="984.5" width="51.46" height="30.87"/>
<rect class="cell g" x="779.5" width="51.46" height="30.87"/><rect class="cell b" x="830.96" width="51.46" height="30.87"/><rect class="cell b" x="984.5" width="51.46" height="30.87"/>
<text x="805.23" y="21.5"><tspan class="m">×</tspan>2</text><text x="856.69" y="21.5"><tspan class="m">×</tspan>1</text><text x="1010.23" y="21.5"><tspan class="m">×</tspan>1</text>
</g>
<g id="rule1" transform="translate(0 109.7)">
<rect class="halo" x="779.5" width="102.92" height="30.87"/><rect class="halo" x="984.5" width="102.92" height="30.87"/>
<rect class="cell l" x="779.5" width="51.46" height="30.87"/><rect class="cell b" x="830.96" width="51.46" height="30.87"/><rect class="cell o" x="984.5" width="51.46" height="30.87"/><rect class="cell b" x="1035.96" width="51.46" height="30.87"/>
<text x="805.23" y="21.5"><tspan class="m">×</tspan>2<tspan class="m">+</tspan>1</text><text x="856.69" y="21.5"><tspan class="m">×</tspan>1</text><text x="1010.23" y="21.5"><tspan class="m">×</tspan>3<tspan class="m">+</tspan>2</text><text x="1061.69" y="21.5"><tspan class="m">×</tspan>1</text>
</g>
<g id="rule2" transform="translate(0 148.2)">
<rect class="halo" x="779.5" width="102.92" height="30.87"/><rect class="halo" x="984.5" width="102.92" height="30.87"/>
<rect class="cell g" x="779.5" width="51.46" height="30.87"/><rect class="cell p" x="830.96" width="51.46" height="30.87"/><rect class="cell p" x="984.5" width="51.46" height="30.87"/><rect class="cell g" x="1035.96" width="51.46" height="30.87"/>
<text x="805.23" y="21.5"><tspan class="m">×</tspan>2</text><text x="856.69" y="21.5"><tspan class="m">×</tspan>3</text><text x="1010.23" y="21.5"><tspan class="m">×</tspan>3</text><text x="1061.69" y="21.5"><tspan class="m">×</tspan>2</text>
</g>
<g id="rule3" transform="translate(0 186.7)">
<rect class="halo" x="779.5" width="102.92" height="30.87"/><rect class="halo" x="984.5" width="102.92" height="30.87"/>
<rect class="cell g" x="779.5" width="51.46" height="30.87"/><rect class="cell k" x="830.96" width="51.46" height="30.87"/><rect class="cell p" x="984.5" width="51.46" height="30.87"/><rect class="cell l" x="1035.96" width="51.46" height="30.87"/>
<text x="805.23" y="21.5"><tspan class="m">×</tspan>2</text><text x="856.69" y="21.5"><tspan class="m">×</tspan>3<tspan class="m">+</tspan>1</text><text x="1010.23" y="21.5"><tspan class="m">×</tspan>3</text><text x="1061.69" y="21.5"><tspan class="m">×</tspan>2<tspan class="m">+</tspan>1</text>
</g>
<g id="rule4" transform="translate(0 225.2)">
<rect class="halo" x="779.5" width="102.92" height="30.87"/><rect class="halo" x="984.5" width="102.92" height="30.87"/>
<rect class="cell g" x="779.5" width="51.46" height="30.87"/><rect class="cell o" x="830.96" width="51.46" height="30.87"/><rect class="cell k" x="984.5" width="51.46" height="30.87"/><rect class="cell g" x="1035.96" width="51.46" height="30.87"/>
<text x="805.23" y="21.5"><tspan class="m">×</tspan>2</text><text x="856.69" y="21.5"><tspan class="m">×</tspan>3<tspan class="m">+</tspan>2</text><text x="1010.23" y="21.5"><tspan class="m">×</tspan>3<tspan class="m">+</tspan>1</text><text x="1061.69" y="21.5"><tspan class="m">×</tspan>2</text>
</g>
<g id="rule5" transform="translate(0 263.7)">
<rect class="halo" x="779.5" width="102.92" height="30.87"/><rect class="halo" x="984.5" width="102.92" height="30.87"/>
<rect class="cell l" x="779.5" width="51.46" height="30.87"/><rect class="cell p" x="830.96" width="51.46" height="30.87"/><rect class="cell k" x="984.5" width="51.46" height="30.87"/><rect class="cell l" x="1035.96" width="51.46" height="30.87"/>
<text x="805.23" y="21.5"><tspan class="m">×</tspan>2<tspan class="m">+</tspan>1</text><text x="856.69" y="21.5"><tspan class="m">×</tspan>3</text><text x="1010.23" y="21.5"><tspan class="m">×</tspan>3<tspan class="m">+</tspan>1</text><text x="1061.69" y="21.5"><tspan class="m">×</tspan>2<tspan class="m">+</tspan>1</text>
</g>
<g id="rule6" transform="translate(0 302.2)">
<rect class="halo" x="779.5" width="102.92" height="30.87"/><rect class="halo" x="984.5" width="102.92" height="30.87"/>
<rect class="cell l" x="779.5" width="51.46" height="30.87"/><rect class="cell k" x="830.96" width="51.46" height="30.87"/><rect class="cell o" x="984.5" width="51.46" height="30.87"/><rect class="cell g" x="1035.96" width="51.46" height="30.87"/>
<text x="805.23" y="21.5"><tspan class="m">×</tspan>2<tspan class="m">+</tspan>1</text><text x="856.69" y="21.5"><tspan class="m">×</tspan>3<tspan class="m">+</tspan>1</text><text x="1010.23" y="21.5"><tspan class="m">×</tspan>3<tspan class="m">+</tspan>2</text><text x="1061.69" y="21.5"><tspan class="m">×</tspan>2</text>
</g>
<g id="rule7" transform="translate(0 340.7)">
<rect class="halo" x="779.5" width="102.92" height="30.87"/><rect class="halo" x="984.5" width="102.92" height="30.87"/>
<rect class="cell l" x="779.5" width="51.46" height="30.87"/><rect class="cell o" x="830.96" width="51.46" height="30.87"/><rect class="cell o" x="984.5" width="51.46" height="30.87"/><rect class="cell l" x="1035.96" width="51.46" height="30.87"/>
<text x="805.23" y="21.5"><tspan class="m">×</tspan>2<tspan class="m">+</tspan>1</text><text x="856.69" y="21.5"><tspan class="m">×</tspan>3<tspan class="m">+</tspan>2</text><text x="1010.23" y="21.5"><tspan class="m">×</tspan>3<tspan class="m">+</tspan>2</text><text x="1061.69" y="21.5"><tspan class="m">×</tspan>2<tspan class="m">+</tspan>1</text>
</g>
<g id="rule8" transform="translate(0 379.2)">
<rect class="halo" x="779.5" width="102.92" height="30.87"/><rect class="halo" x="984.5" width="102.92" height="30.87"/>
<rect class="cell t" x="779.5" width="51.46" height="30.87"/><rect class="cell p" x="830.96" width="51.46" height="30.87"/><rect class="cell t" x="984.5" width="51.46" height="30.87"/><rect class="cell l" x="1035.96" width="51.46" height="30.87"/>
<text x="805.23" y="21.5">1</text><text x="856.69" y="21.5"><tspan class="m">×</tspan>3</text><text x="1010.23" y="21.5">1</text><text x="1061.69" y="21.5"><tspan class="m">×</tspan>2<tspan class="m">+</tspan>1</text>
</g>
<g id="rule9" transform="translate(0 417.7)">
<rect class="halo" x="779.5" width="102.92" height="30.87"/><rect class="halo" x="984.5" width="154.38" height="30.87"/>
<rect class="cell t" x="779.5" width="51.46" height="30.87"/><rect class="cell k" x="830.96" width="51.46" height="30.87"/><rect class="cell t" x="984.5" width="51.46" height="30.87"/><rect class="cell g" x="1035.96" width="51.46" height="30.87"/><rect class="cell g" x="1087.42" width="51.46" height="30.87"/>
<text x="805.23" y="21.5">1</text><text x="856.69" y="21.5"><tspan class="m">×</tspan>3<tspan class="m">+</tspan>1</text><text x="1010.23" y="21.5">1</text><text x="1061.69" y="21.5"><tspan class="m">×</tspan>2</text><text x="1113.15" y="21.5"><tspan class="m">×</tspan>2</text>
</g>
<g id="rule10" transform="translate(0 456.2)">
<rect class="halo" x="779.5" width="102.92" height="30.87"/><rect class="halo" x="984.5" width="154.38" height="30.87"/>
<rect class="cell t" x="779.5" width="51.46" height="30.87"/><rect class="cell o" x="830.96" width="51.46" height="30.87"/><rect class="cell t" x="984.5" width="51.46" height="30.87"/><rect class="cell g" x="1035.96" width="51.46" height="30.87"/><rect class="cell l" x="1087.42" width="51.46" height="30.87"/>
<text x="805.23" y="21.5">1</text><text x="856.69" y="21.5"><tspan class="m">×</tspan>3<tspan class="m">+</tspan>2</text><text x="1010.23" y="21.5">1</text><text x="1061.69" y="21.5"><tspan class="m">×</tspan>2</text><text x="1113.15" y="21.5"><tspan class="m">×</tspan>2<tspan class="m">+</tspan>1</text>
</g>
</g>
<g id="connectors" class="conn">
<line x1="895" y1="86.63" x2="971.5" y2="86.63" marker-end="url(#ah)"/>
<line x1="895" y1="125.13" x2="971.5" y2="125.13" marker-end="url(#ah)"/>
<line x1="895" y1="163.63" x2="971.5" y2="163.63" marker-end="url(#ah)"/>
<line x1="895" y1="202.13" x2="971.5" y2="202.13" marker-end="url(#ah)"/>
<line x1="895" y1="240.63" x2="971.5" y2="240.63" marker-end="url(#ah)"/>
<line x1="895" y1="279.13" x2="971.5" y2="279.13" marker-end="url(#ah)"/>
<line x1="895" y1="317.63" x2="971.5" y2="317.63" marker-end="url(#ah)"/>
<line x1="895" y1="356.13" x2="971.5" y2="356.13" marker-end="url(#ah)"/>
<line x1="895" y1="394.63" x2="971.5" y2="394.63" marker-end="url(#ah)"/>
<line x1="895" y1="433.13" x2="971.5" y2="433.13" marker-end="url(#ah)"/>
<line x1="895" y1="471.63" x2="971.5" y2="471.63" marker-end="url(#ah)"/>
</g>
</svg>
